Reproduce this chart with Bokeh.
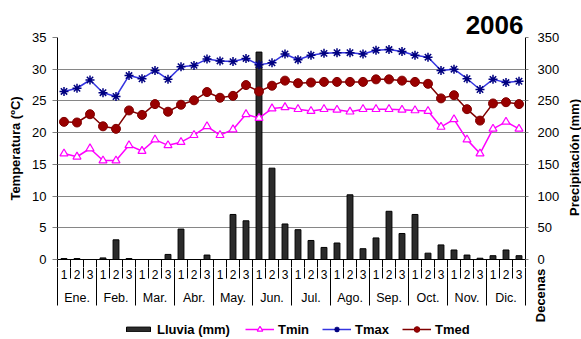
import math
from bokeh.plotting import figure
from bokeh.layouts import column, row
from bokeh.models import (Range1d, LinearAxis, FixedTicker, Legend, LegendItem)
from bokeh.core.properties import value
from bokeh.embed import file_html
from bokeh.resources import INLINE

# ---------------- data ----------------
months = ["Ene.", "Feb.", "Mar.", "Abr.", "May.", "Jun.",
          "Jul.", "Ago.", "Sep.", "Oct.", "Nov.", "Dic."]
dekads = ["1", "2", "3"]

rain = [1.5, 1.5, 0, 2.5, 31, 1.5, 0, 0, 8, 48, 0, 7,
        0, 71, 61, 327, 144, 56, 47, 30, 19, 26, 102, 17,
        34, 76, 41, 71, 10, 23, 15, 7, 2, 6, 15, 6]
tmin = [16.7, 16.2, 17.5, 15.6, 15.6, 18.0, 17.1, 18.9, 18.0, 18.5, 19.6, 21.0,
        19.6, 20.5, 22.9, 22.3, 23.8, 24.0, 23.7, 23.4, 23.7, 23.6, 23.3, 23.7,
        23.7, 23.7, 23.6, 23.5, 23.4, 20.9, 22.1, 18.9, 16.7, 20.6, 21.7, 20.6]
tmax = [26.5, 27.0, 28.3, 26.3, 25.7, 29.0, 28.5, 29.8, 28.4, 30.4, 30.6, 31.6,
        31.3, 31.2, 31.7, 30.7, 31.0, 32.4, 31.5, 32.2, 32.5, 32.6, 32.6, 32.4,
        33.0, 33.1, 32.8, 32.2, 31.9, 29.8, 30.0, 28.5, 26.8, 28.4, 27.9, 28.1]
tmed = [21.7, 21.6, 22.9, 21.0, 20.6, 23.5, 22.8, 24.5, 23.3, 24.4, 25.1, 26.4,
        25.5, 25.8, 27.5, 26.5, 27.4, 28.2, 27.8, 27.9, 28.0, 28.0, 28.0, 28.0,
        28.4, 28.4, 28.2, 28.0, 27.7, 25.4, 25.9, 23.7, 21.9, 24.6, 24.8, 24.5]

temp_ticks = [0, 5, 10, 15, 20, 25, 30, 35]
rain_ticks = [0, 50, 100, 150, 200, 250, 300, 350]

title_text = "2006"
ylabel_left = "Temperatura (ºC)"
ylabel_right = "Precipitación (mm)"
xlabel = "Decenas"
legend_labels = ["Lluvia (mm)", "Tmin", "Tmax", "Tmed"]

FONT = "Liberation Sans"
W, H = 581, 339
WR = 19                                    # right strip holding the rotated title
WL = W - WR
FL, FR, FT, FB = 57, 525, 37, 259          # frame box in page pixels
STUB = 8                                   # strip under the frame kept in the top figure
H1 = FB + STUB
H2 = H - H1

n = len(rain)
xs = [i + 0.5 for i in range(n)]
px_per_x = (FR - FL) / n
bounds = list(range(n + 1))
month_bounds = bounds[::3]


def no_align(fig):
    if "frame_align" in fig.properties():
        fig.frame_align = False


# ---------------- main figure ----------------
p = figure(width=WL, height=H1, x_range=Range1d(0, n), y_range=Range1d(0, 35),
           output_backend="svg", toolbar_location=None, title=title_text,
           min_border_left=FL, min_border_right=WL - FR, min_border_top=FT,
           min_border_bottom=STUB, outline_line_color=None,
           background_fill_color="white", border_fill_color="white")
no_align(p)
p.extra_y_ranges = {"rain": Range1d(0, 350)}

p.title.align = "right"
p.title.vertical_align = "middle"
p.title.offset = 2
p.title.standoff = 6
p.title.text_font = FONT
p.title.text_font_size = "26px"
p.title.text_font_style = "bold"
p.title.text_color = "black"

# left axis
yax = p.yaxis[0]
yax.ticker = FixedTicker(ticks=temp_ticks)
yax.major_tick_in = 0
yax.major_tick_out = 5
yax.minor_tick_line_color = None
yax.major_label_standoff = 6
yax.major_label_text_font = FONT
yax.major_label_text_font_size = "13px"
yax.major_label_text_color = "black"
yax.axis_line_color = "black"
yax.major_tick_line_color = "#808080"
yax.axis_label = ylabel_left
yax.axis_label_standoff = 6
yax.axis_label_text_font = FONT
yax.axis_label_text_font_size = "13px"
yax.axis_label_text_font_style = "bold"
yax.axis_label_text_color = "black"

# right axis (its title is drawn in the right strip)
rax = LinearAxis(y_range_name="rain", ticker=FixedTicker(ticks=rain_ticks))
rax.major_tick_in = 0
rax.major_tick_out = 3
rax.minor_tick_line_color = None
rax.major_label_standoff = 9
rax.major_label_text_font = FONT
rax.major_label_text_font_size = "13px"
rax.major_label_text_color = "black"
rax.axis_line_color = "black"
rax.major_tick_line_color = "#808080"
p.add_layout(rax, "right")

# bottom axis: only the first pixels of the dividers
xax = p.xaxis[0]
xax.ticker = FixedTicker(ticks=month_bounds, minor_ticks=bounds)
xax.major_tick_in = 0
xax.major_tick_out = STUB
xax.minor_tick_in = 0
xax.minor_tick_out = STUB
xax.major_tick_line_color = "black"
xax.minor_tick_line_color = "black"
xax.axis_line_color = "black"
xax.major_label_standoff = 0
xax.major_label_text_font_size = "0px"
xax.major_label_overrides = {b: "" for b in month_bounds}

p.xgrid.visible = False
p.ygrid.ticker = FixedTicker(ticks=temp_ticks)
p.ygrid.grid_line_color = "#868686"
p.ygrid.grid_line_width = 1

# glyphs
BAR_FILL, BAR_LINE = "#2b2b2b", "black"
MIN_C = "#FF00FF"
MAX_C, MAX_M = "#3535E0", "#000080"
MED_C, MED_F = "#800000", "#990000"

p.vbar(x=xs, top=rain, width=0.45, bottom=0, y_range_name="rain",
       fill_color=BAR_FILL, line_color=BAR_LINE, line_width=1)
p.line(xs, tmin, line_color=MIN_C, line_width=1.5)
p.scatter(xs, tmin, marker="triangle", size=8, line_color=MIN_C,
          fill_color="white", line_width=1.2)
p.line(xs, tmax, line_color=MAX_C, line_width=1.5)
p.scatter(xs, tmax, marker="asterisk", size=9, line_color=MAX_M, line_width=1.5)
p.line(xs, tmed, line_color=MED_C, line_width=1.5)
p.scatter(xs, tmed, marker="circle", size=9, line_color=MED_C,
          fill_color=MED_F, line_width=1)

# ---------------- lower strip: category labels + legend ----------------
# x in the same category units as the chart; y = pixels below the axis line
q = figure(width=WL, height=H2,
           x_range=Range1d(-FL / px_per_x, n + (WL - FR) / px_per_x),
           y_range=Range1d(-(STUB + H2), -STUB),
           output_backend="svg", toolbar_location=None,
           x_axis_location=None, y_axis_location=None,
           min_border_left=0, min_border_right=0, min_border_top=0,
           min_border_bottom=0, outline_line_color=None,
           background_fill_color="white", border_fill_color="white")
no_align(q)
q.xgrid.visible = False
q.ygrid.visible = False

q.segment(x0=bounds, y0=[0] * len(bounds), x1=bounds,
          y1=[-46 if b % 3 == 0 else -19 for b in bounds],
          line_color="black", line_width=1)

q.text(x=xs, y=[-14.5] * n, text=[dekads[i % 3] for i in range(n)],
       text_align="center", text_baseline="middle",
       text_font=value(FONT), text_font_size="12px", text_color="black")
q.text(x=[3 * k + 1.5 for k in range(len(months))], y=[-38] * len(months),
       text=months, text_align="center", text_baseline="middle",
       text_font=value(FONT), text_font_size="12.5px", text_color="black")
q.text(x=[n + 15 / px_per_x], y=[-36], text=[xlabel], angle=math.pi / 2,
       text_align="center", text_baseline="middle",
       text_font=value(FONT), text_font_size="13px", text_font_style="bold",
       text_color="black")

# legend proxies: same data and styles, hidden (only their legend swatches show)
lb = q.vbar(x=xs, top=rain, width=0.45, fill_color=BAR_FILL,
            line_color=BAR_LINE, visible=False)
ln1 = q.line(xs, tmin, line_color=MIN_C, line_width=1.5, visible=False)
mk1 = q.scatter(xs, tmin, marker="triangle", size=8, line_color=MIN_C,
                fill_color="white", line_width=1.2, visible=False)
ln2 = q.line(xs, tmax, line_color=MAX_C, line_width=1.5, visible=False)
mk2 = q.scatter(xs, tmax, marker="asterisk", size=9, line_color=MAX_M,
                line_width=1.5, visible=False)
ln3 = q.line(xs, tmed, line_color=MED_C, line_width=1.5, visible=False)
mk3 = q.scatter(xs, tmed, marker="circle", size=9, line_color=MED_C,
                fill_color=MED_F, line_width=1, visible=False)

common = dict(orientation="horizontal", label_standoff=4, spacing=13,
              padding=0, margin=0, border_line_color=None,
              background_fill_alpha=0, inactive_fill_alpha=0,
              label_text_font=FONT, label_text_font_size="13px",
              label_text_font_style="bold", label_text_color="black",
              label_height=15)
leg1 = Legend(items=[LegendItem(label=legend_labels[0], renderers=[lb])],
              location=(123, 2.5), glyph_width=30, glyph_height=6, **common)
leg2 = Legend(items=[LegendItem(label=legend_labels[1], renderers=[ln1, mk1]),
                     LegendItem(label=legend_labels[2], renderers=[ln2, mk2]),
                     LegendItem(label=legend_labels[3], renderers=[ln3, mk3])],
              location=(245, 2.5), glyph_width=29, glyph_height=14, **common)
q.add_layout(leg1, "center")
q.add_layout(leg2, "center")

# ---------------- right strip: rotated title of the rain axis ----------------
r = figure(width=WR, height=H, x_range=Range1d(0, WR), y_range=Range1d(-H, 0),
           output_backend="svg", toolbar_location=None,
           x_axis_location=None, y_axis_location=None,
           min_border_left=0, min_border_right=0, min_border_top=0,
           min_border_bottom=0, outline_line_color=None,
           background_fill_color="white", border_fill_color="white")
no_align(r)
r.xgrid.visible = False
r.ygrid.visible = False
r.text(x=[11.5], y=[-157], text=[ylabel_right], angle=math.pi / 2,
       text_align="center", text_baseline="middle",
       text_font=value(FONT), text_font_size="13px", text_font_style="bold",
       text_color="black")

layout = row(column(p, q, spacing=0), r, spacing=0)
open("out.html", "w").write(file_html(layout, INLINE))
